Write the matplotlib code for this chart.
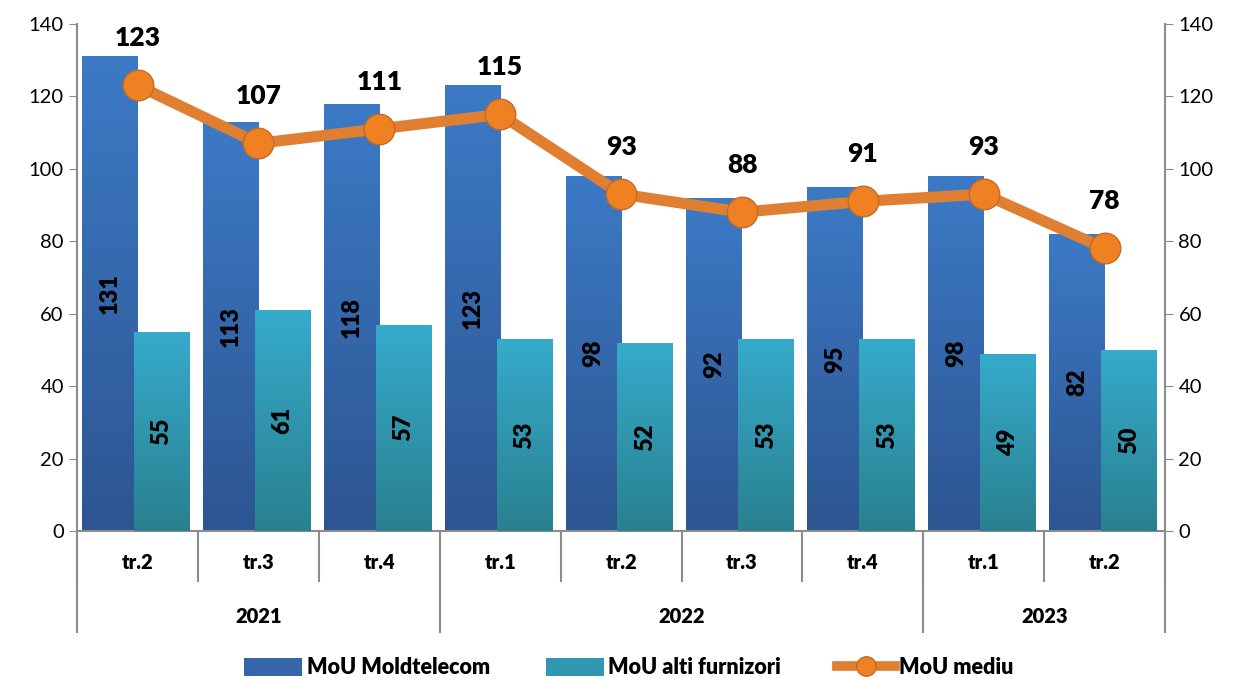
import numpy as np
import matplotlib
matplotlib.use('Agg')
import matplotlib.pyplot as plt
import matplotlib.transforms as mtransforms
from matplotlib.colors import LinearSegmentedColormap
from matplotlib.patches import Patch
from matplotlib.lines import Line2D

plt.rcParams['font.family'] = ['Lato', 'DejaVu Sans']

quarters = ['tr.2', 'tr.3', 'tr.4', 'tr.1', 'tr.2', 'tr.3', 'tr.4', 'tr.1', 'tr.2']
years = ['2021', '2022', '2023']
year_spans = [(0, 2), (3, 6), (7, 8)]
mou_moldtelecom = [131, 113, 118, 123, 98, 92, 95, 98, 82]
mou_alti = [55, 61, 57, 53, 52, 53, 53, 49, 50]
mou_mediu = [123, 107, 111, 115, 93, 88, 91, 93, 78]

blue_cmap = LinearSegmentedColormap.from_list('b', ['#2D5591', '#3C7AC6'])
teal_cmap = LinearSegmentedColormap.from_list('t', ['#29808F', '#36ABCC'])
grey = '#8C8C8C'
heavy = 'heavy'

fig = plt.figure(figsize=(12.33, 6.8), dpi=100)
ax = fig.add_axes([0.0625, 0.219, 0.8825, 0.746])
x = np.arange(len(quarters))


def gradient_bars(xs, vals, width, cmap, z):
    bars = ax.bar(xs, vals, width, color='none', zorder=z)
    grad = np.linspace(1, 0, 256).reshape(-1, 1)
    for b in bars:
        x0, w, h = b.get_x(), b.get_width(), b.get_height()
        im = ax.imshow(grad, extent=[x0, x0 + w, 0, h], aspect='auto',
                       cmap=cmap, zorder=z, origin='upper')
        im.set_clip_path(b)
    return bars


gradient_bars(x - 0.23, mou_moldtelecom, 0.46, blue_cmap, 2)
gradient_bars(x + 0.2, mou_alti, 0.46, teal_cmap, 3)

for i in range(len(x)):
    ax.text(x[i] - 0.23, mou_moldtelecom[i] / 2, str(mou_moldtelecom[i]), rotation=90,
            ha='center', va='center', fontsize=17, fontweight=heavy, zorder=5)
    ax.text(x[i] + 0.2, mou_alti[i] / 2, str(mou_alti[i]), rotation=90,
            ha='center', va='center', fontsize=17, fontweight=heavy, zorder=5)

ax.set_xlim(-0.5, 8.5)
ax.set_ylim(0, 140)
ax.set_yticks(range(0, 141, 20))
ax.tick_params(axis='y', labelsize=14.5, color=grey, length=6)
ax.set_xticks([])
for s in ['top', 'right']:
    ax.spines[s].set_visible(False)
ax.spines['left'].set_color(grey)
ax.spines['bottom'].set_color(grey)
ax.spines['bottom'].set_linewidth(1.5)
ax.spines['left'].set_linewidth(1.5)

ax2 = ax.twinx()
ax2.set_ylim(0, 140)
ax2.set_yticks(range(0, 141, 20))
ax2.tick_params(axis='y', labelsize=14.5, color=grey, length=6)
for s in ['top', 'left', 'bottom']:
    ax2.spines[s].set_visible(False)
ax2.spines['right'].set_color(grey)
ax2.spines['right'].set_linewidth(1.5)
ax2.plot(x, mou_mediu, color='#E07F32', lw=8, marker='o', markersize=22,
         markerfacecolor='#F08122', markeredgecolor='#C5692A', markeredgewidth=1, zorder=6)
for i in range(len(x)):
    ax2.annotate(str(mou_mediu[i]), (x[i], mou_mediu[i]), xytext=(0, 34),
                 textcoords='offset points', ha='center', va='center',
                 fontsize=19, fontweight=heavy)

# two-level category axis
trans = mtransforms.blended_transform_factory(ax.transData, ax.transAxes)
for b in np.arange(-0.5, 9, 1.0):
    ax.plot([b, b], [0, -0.0986], color=grey, lw=1.5, transform=trans, clip_on=False)
for b in [-0.5, 2.5, 6.5, 8.5]:
    ax.plot([b, b], [0, -0.199], color=grey, lw=1.5, transform=trans, clip_on=False)
for i, q in enumerate(quarters):
    ax.text(i, -0.061, q, transform=trans, ha='center', va='center',
            fontsize=14.5, fontweight=heavy)
for (a, b), yr in zip(year_spans, years):
    ax.text((a + b) / 2, -0.168, yr, transform=trans, ha='center', va='center',
            fontsize=14.5, fontweight=heavy)

handles = [Patch(facecolor='#3566AA', label='MoU Moldtelecom'),
           Patch(facecolor='#3198B4', label='MoU alti furnizori'),
           Line2D([0], [0], color='#E07F32', lw=7, marker='o', markersize=14,
                  markerfacecolor='#F08122', markeredgecolor='#C5692A', label='MoU mediu')]
fig.legend(handles=handles, loc='center', bbox_to_anchor=(0.51, 0.018), ncol=3,
           frameon=False, prop={'size': 15.5, 'weight': heavy},
           handlelength=2.7, handleheight=0.9, columnspacing=2.6, handletextpad=0.2)

fig.savefig('out.png', dpi=100)
